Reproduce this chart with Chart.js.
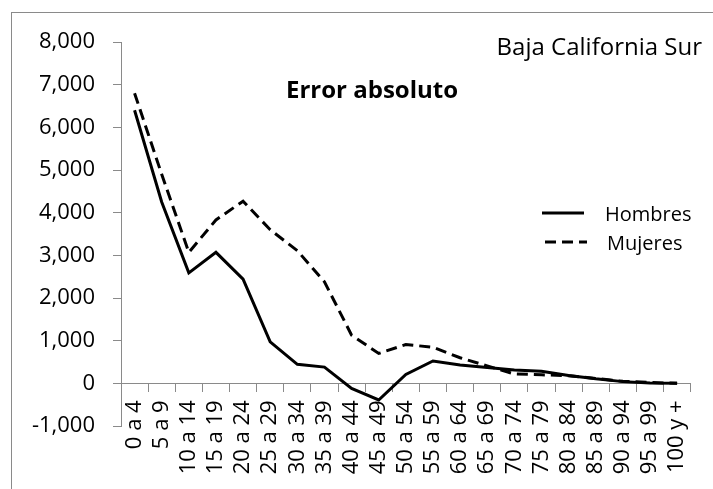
<!DOCTYPE html>
<html>
<head>
<meta charset="utf-8">
<script src="https://cdn.jsdelivr.net/npm/chart.js@4.4.1/dist/chart.umd.min.js"></script>
<style>
  html, body { margin: 0; padding: 0; background: #fff; }
  #wrap { width: 713px; height: 489px; }
</style>
</head>
<body>
<div id="wrap"><canvas id="errChart" width="713" height="489"></canvas></div>
<script>
// grupos de edad
const ageGroups = ["0 a 4", "5 a 9", "10 a 14", "15 a 19", "20 a 24", "25 a 29", "30 a 34",
    "35 a 39", "40 a 44", "45 a 49", "50 a 54", "55 a 59", "60 a 64", "65 a 69", "70 a 74",
    "75 a 79", "80 a 84", "85 a 89", "90 a 94", "95 a 99", "100 y +"];

const hombres = [6400, 4250, 2590, 3070, 2440, 970, 445, 380, -120, -390, 210, 525,
    430, 370, 315, 285, 185, 105, 40, 10, 0];
const mujeres = [6800, 4900, 3070, 3830, 4270, 3600, 3110, 2380, 1130, 700, 910, 845,
    600, 410, 220, 200, 180, 115, 47, 20, 0];

const yMin = -1000, yMax = 8000, yStep = 1000;
const chartTitle = "Error absoluto";
const regionName = "Baja California Sur";

const gray = "#8a8a8a";
const fontFam = "'Open Sans', sans-serif";

// border box + text labels + legend drawn on the canvas
const extras = {
    id: "extras",
    beforeDraw(chart) {
        const ctx = chart.ctx;
        ctx.save();
        ctx.fillStyle = "#fff";
        ctx.fillRect(0, 0, chart.width, chart.height);
        ctx.strokeStyle = gray;
        ctx.lineWidth = 1;
        ctx.strokeRect(11.5, 12.5, 800, 600);
        ctx.restore();
    },
    afterDraw(chart) {
        const ctx = chart.ctx;
        ctx.save();
        ctx.fillStyle = "#000";
        ctx.textBaseline = "alphabetic";

        ctx.font = "bold 24px " + fontFam;
        ctx.textAlign = "center";
        ctx.fillText(chartTitle, 372, 98);

        ctx.font = "24px " + fontFam;
        ctx.textAlign = "right";
        ctx.fillText(regionName, 702, 55);

        // legend
        const rows = [213, 242];
        ctx.font = "20px " + fontFam;
        ctx.textAlign = "left";
        chart.data.datasets.forEach((ds, i) => {
            const y = rows[i];
            ctx.strokeStyle = ds.borderColor;
            ctx.lineWidth = ds.borderWidth;
            ctx.setLineDash(ds.borderDash || []);
            ctx.beginPath();
            ctx.moveTo(542 + i * 3, y);
            ctx.lineTo(584 + i * 3, y);
            ctx.stroke();
            ctx.fillText(ds.label, 605 + i * 2, y + 8);
        });
        ctx.restore();
    }
};

const ctx = document.getElementById("errChart").getContext("2d");
new Chart(ctx, {
    type: "line",
    data: {
        labels: ageGroups,
        datasets: [{
            label: "Hombres",
            data: hombres,
            borderColor: "#000",
            borderWidth: 3,
            pointRadius: 0,
            tension: 0,
            fill: false
        }, {
            label: "Mujeres",
            data: mujeres,
            borderColor: "#000",
            borderWidth: 3,
            borderDash: [11, 6],
            pointRadius: 0,
            tension: 0,
            fill: false
        }]
    },
    options: {
        responsive: false,
        animation: false,
        layout: { padding: { left: 0, top: 42, right: 21, bottom: 63 } },
        plugins: {
            legend: { display: false },
            tooltip: { enabled: false }
        },
        scales: {
            x: {
                position: { y: 0 },
                offset: true,
                afterFit: (s) => { s.height = 0; },
                grid: { offset: true, drawOnChartArea: false, drawTicks: true, tickLength: 8, color: gray },
                border: { display: true, color: gray, width: 1 },
                ticks: {
                    autoSkip: false, minRotation: 90, maxRotation: 90, padding: 9,
                    color: "#000", font: { family: fontFam, size: 22 }
                }
            },
            y: {
                min: yMin,
                max: yMax,
                afterFit: (s) => { s.width = 121; },
                grid: { drawOnChartArea: false, drawTicks: true, tickLength: 8, color: gray },
                border: { display: true, color: gray, width: 1 },
                ticks: {
                    stepSize: yStep, padding: 18, color: "#000",
                    font: { family: fontFam, size: 22 },
                    callback: (v) => v.toLocaleString("en-US")
                }
            }
        }
    },
    plugins: [extras]
});
</script>
</body>
</html>
